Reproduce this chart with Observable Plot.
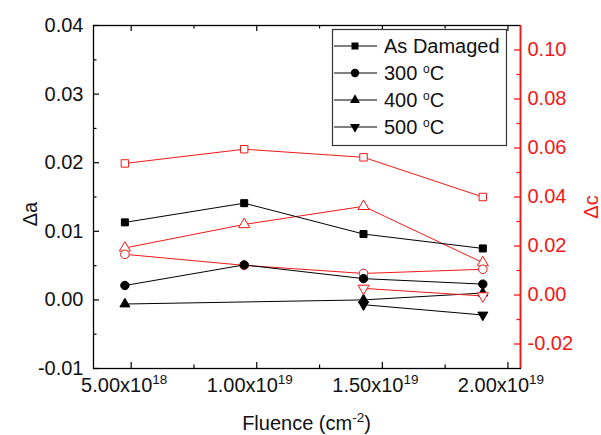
<!DOCTYPE html>
<html><head><meta charset="utf-8">
<script src="https://cdn.jsdelivr.net/npm/d3@7"></script>
<script src="https://cdn.jsdelivr.net/npm/@observablehq/plot@0.6"></script>
<style>
body{margin:0;background:#fff;}
#chart svg{display:block;}
</style></head><body><div id="chart"></div>
<script>
// ---- data ----
const fluence = [4.75e18, 9.5e18, 1.425e19, 1.9e19];
const seriesNames = ["As Damaged", "300", "400", "500"];
const daAsDamaged = [0.0113, 0.0141, 0.0096, 0.0075];
const da300 = [0.0021, 0.0051, 0.0031, 0.0023];
const da400 = [-0.0006, null, 0.0000, 0.0010];
const da500 = [null, null, -0.0007, -0.0022];
const dcAsDamaged = [0.0537, 0.0595, 0.0562, 0.0400];
const dc300 = [0.0166, 0.0121, 0.0088, 0.0105];
const dc400 = [0.0192, 0.0288, 0.0362, 0.0132];
const dc500 = [null, null, 0.0027, -0.0004];
const xTicks = [5e18, 1e19, 1.5e19, 2e19];
const xMinorTicks = [7.5e18, 1.25e19, 1.75e19];
const yLeftTicks = [-0.01, 0, 0.01, 0.02, 0.03, 0.04];
const yLeftMinor = [-0.005, 0.005, 0.015, 0.025, 0.035];
const yRightTicks = [-0.02, 0, 0.02, 0.04, 0.06, 0.08, 0.10];
const yRightMinor = [-0.01, 0.01, 0.03, 0.05, 0.07, 0.09];

// ---- layout ----
const W = 601, H = 435, mL = 93, mR = 81, mT = 25, mB = 67;
const pw = W - mL - mR, ph = H - mT - mB;
const xDomain = [3.5e18, 2.05e19], yL = [-0.01, 0.04], yR = [-0.03, 0.11];
const RED = "#f01818", BLK = "#000";
const FS = 20, SUP = 13.5;
const toLeft = v => yL[0] + (v - yR[0]) / (yR[1] - yR[0]) * (yL[1] - yL[0]);
const fromLeft = d => yR[0] + (d - yL[0]) / (yL[1] - yL[0]) * (yR[1] - yR[0]);
const rows = (vals, tf = v => v) => fluence.map((f, i) => ({x: f, y: vals[i] == null ? null : tf(vals[i])})).filter(d => d.y != null);

function series(vals, opts, tf) {
  const data = rows(vals, tf);
  return [
    Plot.line(data, {x: "x", y: "y", stroke: opts.color, strokeWidth: 1}),
    Plot.dot(data, {x: "x", y: "y", symbol: opts.symbol, r: opts.r, rotate: opts.rotate || 0,
      fill: opts.fill, stroke: opts.color, strokeWidth: opts.sw || 1})
  ];
}
const fmt2 = v => (Math.round(v * 100) / 100).toFixed(2);
const xFmt = d => {
  const e = Math.floor(Math.log10(d) + 1e-9);
  return (d / Math.pow(10, e)).toFixed(2) + "x10^" + e;
};

const chart = Plot.plot({
  width: W, height: H,
  marginLeft: mL, marginRight: mR, marginTop: mT, marginBottom: mB,
  style: {fontFamily: "'Liberation Sans', Arial, sans-serif", fontSize: FS + "px", background: "#fff"},
  x: {type: "linear", domain: xDomain},
  y: {type: "linear", domain: yL},
  marks: [
    // red (Δc) series under black
    ...series(dcAsDamaged, {color: RED, symbol: "square", r: 4.2, fill: "#fff"}, toLeft),
    ...series(dc400, {color: RED, symbol: "triangle", r: 4.1, fill: "#fff"}, toLeft),
    ...series(dc300, {color: RED, symbol: "circle", r: 4.3, fill: "#fff"}, toLeft),
    // black (Δa)
    ...series(daAsDamaged, {color: BLK, symbol: "square", r: 3.95, fill: BLK}),
    ...series(da300, {color: BLK, symbol: "circle", r: 4.2, fill: BLK}),
    ...series(da400, {color: BLK, symbol: "triangle", r: 3.7, fill: BLK}),
    ...series(da500, {color: BLK, symbol: "triangle", r: 3.7, rotate: 180, fill: BLK}),
    ...series(dc500, {color: RED, symbol: "triangle", r: 4.1, rotate: 180, fill: "#fff"}, toLeft),
    // frame & ticks
    Plot.frame({stroke: BLK, strokeWidth: 1.3}),
    Plot.tickX(xTicks, {x: d => d, insetTop: ph - 6, stroke: BLK, strokeWidth: 1.2}),
    Plot.tickX(xMinorTicks, {x: d => d, insetTop: ph - 3.5, stroke: BLK, strokeWidth: 1.2}),
    Plot.tickX(xTicks, {x: d => d, insetBottom: ph - 6, stroke: BLK, strokeWidth: 1.2}),
    Plot.tickX(xMinorTicks, {x: d => d, insetBottom: ph - 3.5, stroke: BLK, strokeWidth: 1.2}),
    Plot.tickY(yLeftTicks, {y: d => d, insetRight: pw - 6, stroke: BLK, strokeWidth: 1.2}),
    Plot.tickY(yLeftMinor, {y: d => d, insetRight: pw - 3.5, stroke: BLK, strokeWidth: 1.2}),
    Plot.ruleX([xDomain[1]], {stroke: RED, strokeWidth: 1.6}),
    Plot.tickY(yRightTicks.map(toLeft), {y: d => d, insetLeft: pw - 6, stroke: RED, strokeWidth: 1.3}),
    Plot.tickY(yRightMinor.map(toLeft), {y: d => d, insetLeft: pw - 3.5, stroke: RED, strokeWidth: 1.3}),
    // axes labels
    Plot.axisX(xTicks, {tickSize: 0, tickPadding: 9, dx: -7, tickFormat: xFmt, label: null, fill: "#111"}),
    Plot.axisY(yLeftTicks, {tickSize: 0, tickPadding: 10, tickFormat: fmt2, label: null, fill: "#111"}),
    Plot.axisY(yRightTicks.map(toLeft), {anchor: "right", tickSize: 0, tickPadding: 7,
      tickFormat: d => fmt2(fromLeft(d)), label: null, fill: RED})
  ]
});

document.getElementById("chart").appendChild(chart);
const svg = d3.select(chart);

// superscripts on x tick labels
svg.selectAll('g[aria-label="x-axis tick label"] text').each(function() {
  const t = d3.select(this);
  const s = this.textContent;
  const [base, exp] = s.split("^");
  t.text(null);
  t.append("tspan").text(base);
  t.append("tspan").attr("dy", -8).attr("font-size", SUP).text(exp);
});

// axis titles
const title = svg.append("text").attr("x", mL + pw / 2).attr("y", 430)
  .attr("text-anchor", "middle").attr("font-size", FS).attr("fill", "#111");
title.append("tspan").text("Fluence (cm");
title.append("tspan").attr("dy", -8).attr("font-size", SUP).text("-2");
title.append("tspan").attr("dy", 8).text(")");

svg.append("text").attr("transform", "translate(37,214) rotate(-90)")
  .attr("text-anchor", "middle").attr("font-size", FS).attr("fill", "#111").text("Δa");
svg.append("text").attr("transform", "translate(598,207) rotate(-90)")
  .attr("text-anchor", "middle").attr("font-size", FS).attr("fill", RED).text("Δc");

// legend
const lg = svg.append("g").attr("text-anchor", "start");
lg.append("rect").attr("x", 332.5).attr("y", 29.5).attr("width", 174).attr("height", 116)
  .attr("fill", "#fff").attr("stroke", "#333").attr("stroke-width", 1.2);
const legendSym = [
  {type: d3.symbolSquare, r: 3.95, rot: 0},
  {type: d3.symbolCircle, r: 4.2, rot: 0},
  {type: d3.symbolTriangle, r: 3.7, rot: 0},
  {type: d3.symbolTriangle, r: 3.7, rot: 180}
];
const rowY = [46, 73, 100, 127];
seriesNames.forEach((name, i) => {
  const y = rowY[i];
  lg.append("line").attr("x1", 334).attr("x2", 377).attr("y1", y).attr("y2", y).attr("stroke", BLK);
  lg.append("path").attr("d", d3.symbol(legendSym[i].type, legendSym[i].r ** 2 * Math.PI)())
    .attr("transform", `translate(355,${y}) rotate(${legendSym[i].rot})`).attr("fill", BLK);
  const t = lg.append("text").attr("x", 384).attr("y", y + 7).attr("text-anchor", "start")
    .attr("font-size", FS).attr("fill", "#111");
  if (i === 0) t.text(name);
  else {
    t.append("tspan").text(name + " ");
    t.append("tspan").attr("dy", -7).attr("font-size", 12).text("o");
    t.append("tspan").attr("dy", 7).text("C");
  }
});
</script></body></html>
